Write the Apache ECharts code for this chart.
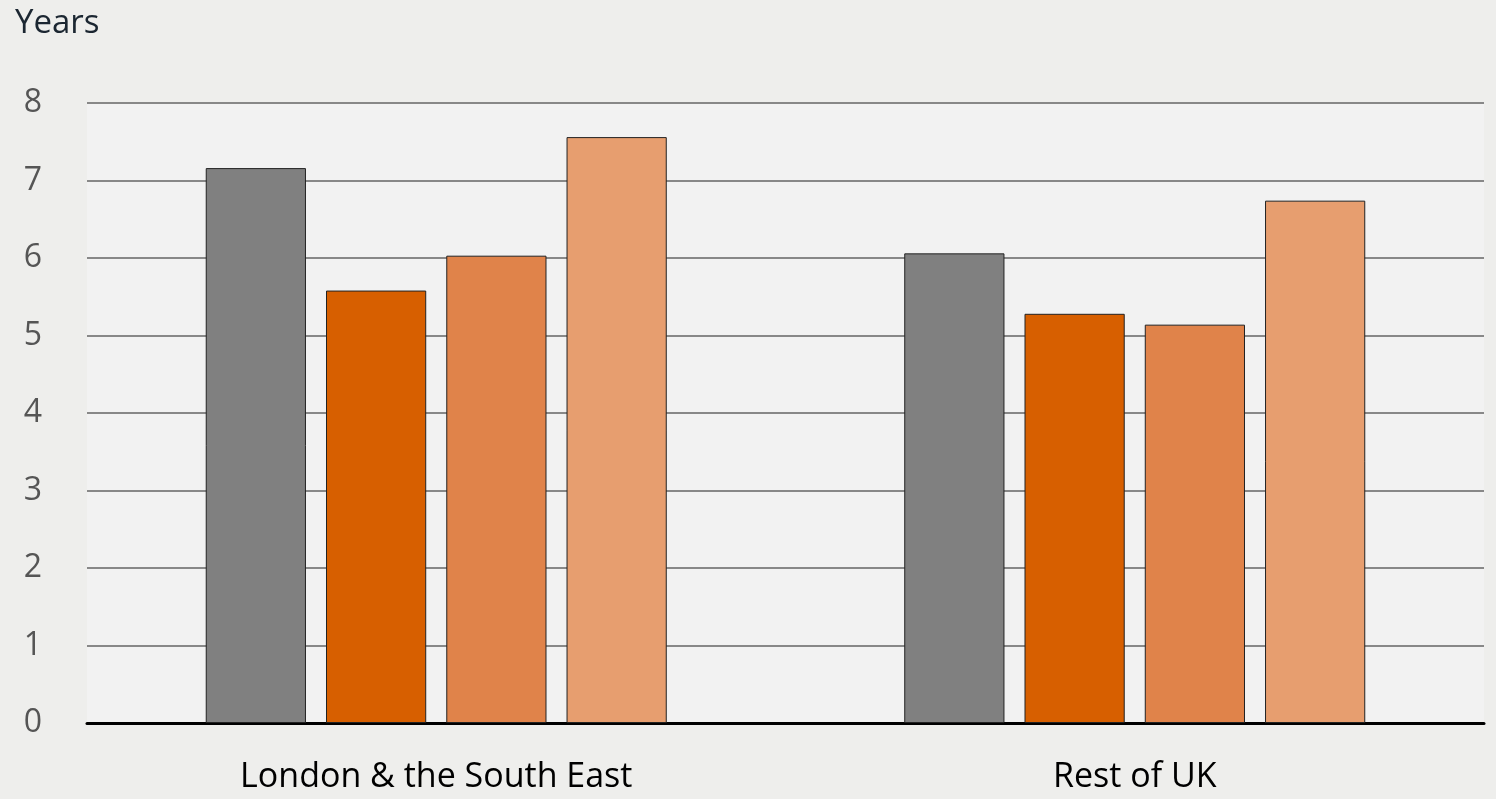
<!DOCTYPE html>
<html>
<head>
<meta charset="utf-8">
<script src="https://cdn.jsdelivr.net/npm/echarts@6/dist/echarts.min.js"></script>
<style>
  html, body { margin: 0; padding: 0; background: #eeeeec; }
  #chart { width: 1496px; height: 799px; }
</style>
</head>
<body>
<div id="chart"></div>
<script>
// Regions on the category axis
const regions = ['London & the South East', 'Rest of UK'];

// Years, one series per bar colour
const seriesGrey = [7.16, 6.06];
const seriesDark = [5.58, 5.28];
const seriesMid = [6.03, 5.14];
const seriesLight = [7.56, 6.74];

const seriesColors = ['#808080', '#d75f00', '#e0834a', '#e79e6f'];
const yTicks = { min: 0, max: 8, interval: 1 };

const chart = echarts.init(document.getElementById('chart'));

const barSeries = [seriesGrey, seriesDark, seriesMid, seriesLight].map((values, i) => ({
  type: 'bar',
  data: values,
  barGap: '20%',
  barCategoryGap: '34%',
  itemStyle: { color: seriesColors[i], borderColor: '#222', borderWidth: 1 }
}));

chart.setOption({
  backgroundColor: '#eeeeec',
  animation: false,
  textStyle: { fontFamily: 'Open Sans' },
  title: {
    text: 'Years',
    left: 10,
    top: 2,
    textStyle: { fontSize: 33, fontWeight: 'normal', color: '#1b2631', fontFamily: 'Open Sans' }
  },
  grid: {
    left: 87, right: 12, top: 103, bottom: 76,
    show: true, backgroundColor: '#f2f2f2', borderWidth: 0
  },
  xAxis: {
    type: 'category',
    data: regions,
    axisLine: { lineStyle: { color: '#000', width: 3 } },
    axisTick: { show: false },
    axisLabel: { color: '#000', fontSize: 34, margin: 37 }
  },
  yAxis: {
    type: 'value',
    min: yTicks.min, max: yTicks.max, interval: yTicks.interval,
    axisLine: { show: false },
    axisTick: { show: false },
    splitLine: { lineStyle: { color: '#888', width: 2 } },
    axisLabel: { color: '#555', fontSize: 32, margin: 45, padding: [0, 0, 8, 0] }
  },
  series: barSeries
});
</script>
</body>
</html>
